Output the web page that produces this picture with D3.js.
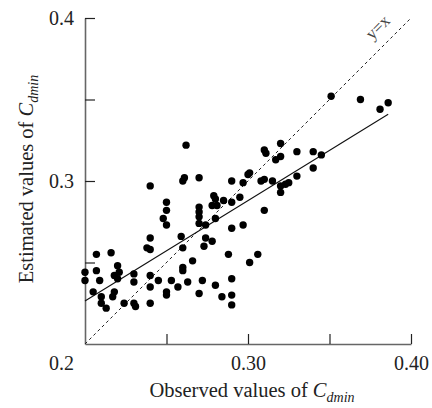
<!DOCTYPE html>
<html>
<head>
<meta charset="utf-8">
<script src="https://cdn.jsdelivr.net/npm/d3@7"></script>
<style>
  body { margin: 0; background: #fff; }
  svg text { font-family: "Liberation Serif", "Times New Roman", serif; }
</style>
</head>
<body>
<svg id="chart" width="432" height="408"></svg>
<script>
// observed / estimated values
var observed = [
  0.200, 0.200, 0.207, 0.207, 0.205, 0.209, 0.210, 0.210, 0.213, 0.216,
  0.220, 0.221, 0.218, 0.220, 0.218, 0.217, 0.224, 0.230, 0.230, 0.230,
  0.231, 0.240, 0.240, 0.238, 0.240, 0.240, 0.240, 0.240, 0.245, 0.250,
  0.250, 0.248, 0.250, 0.250, 0.250, 0.253, 0.257, 0.259, 0.260, 0.260,
  0.260, 0.260, 0.261, 0.263, 0.266, 0.270, 0.270, 0.270, 0.270, 0.270,
  0.272, 0.270, 0.274, 0.274, 0.273, 0.278, 0.279, 0.280, 0.278, 0.281,
  0.280, 0.280, 0.284, 0.285, 0.290, 0.290, 0.290, 0.288, 0.290, 0.290,
  0.290, 0.295, 0.297, 0.297, 0.300, 0.301, 0.262,
  0.301, 0.351, 0.369, 0.381, 0.386, 0.320, 0.310, 0.311, 0.330, 0.340,
  0.345, 0.320, 0.317, 0.340, 0.330, 0.308, 0.310, 0.315, 0.320, 0.325,
  0.323, 0.320, 0.310, 0.306
];
var estimated = [
  0.244, 0.239, 0.255, 0.245, 0.232, 0.239, 0.229, 0.225, 0.222, 0.256,
  0.248, 0.244, 0.242, 0.240, 0.232, 0.229, 0.225, 0.243, 0.238, 0.225,
  0.223, 0.297, 0.265, 0.259, 0.258, 0.242, 0.235, 0.225, 0.239, 0.287,
  0.282, 0.277, 0.273, 0.232, 0.230, 0.239, 0.235, 0.266, 0.259, 0.247,
  0.245, 0.300, 0.302, 0.238, 0.251, 0.302, 0.284, 0.281, 0.278, 0.274,
  0.239, 0.231, 0.273, 0.265, 0.260, 0.263, 0.291, 0.289, 0.285, 0.285,
  0.277, 0.236, 0.229, 0.288, 0.300, 0.287, 0.271, 0.255, 0.240, 0.230,
  0.224, 0.290, 0.299, 0.273, 0.304, 0.250, 0.322,
  0.305, 0.352, 0.350, 0.344, 0.348, 0.323, 0.319, 0.317, 0.318, 0.318,
  0.316, 0.315, 0.313, 0.308, 0.303, 0.300, 0.301, 0.300, 0.297, 0.299,
  0.298, 0.293, 0.282, 0.255
];

// fitted line and 1:1 line end points
var fitX = [0.200, 0.386];
var fitY = [0.2264, 0.341];
var identity = [0.2, 0.4];

var xTicks = [0.25, 0.30, 0.35, 0.40];
var xTickLabels = ["", "0.30", "", "0.40"];
var yTicks = [0.25, 0.30, 0.35, 0.40];
var yTickLabels = ["", "0.3", "", "0.4"];
var originLabel = "0.2";

var serif = "'Liberation Serif', 'Times New Roman', serif";
var svg = d3.select("#chart");

var x = d3.scaleLinear().domain([0.2, 0.4]).range([85, 411]);
var y = d3.scaleLinear().domain([0.2, 0.4]).range([344, 18]);

// axes (ticks point inward)
var xAxis = d3.axisBottom(x)
    .tickValues(xTicks)
    .tickSizeInner(-10)
    .tickSizeOuter(0)
    .tickPadding(12)
    .tickFormat(function (d, i) { return xTickLabels[i]; });
var yAxis = d3.axisLeft(y)
    .tickValues(yTicks)
    .tickSizeInner(-10)
    .tickSizeOuter(0)
    .tickPadding(11)
    .tickFormat(function (d, i) { return yTickLabels[i]; });

var gx = svg.append("g").attr("transform", "translate(0," + y(0.2) + ")").call(xAxis);
var gy = svg.append("g").attr("transform", "translate(" + x(0.2) + ",0)").call(yAxis);

[gx, gy].forEach(function (g) {
    g.attr("font-family", serif);
    g.select(".domain").attr("stroke", "#666").attr("stroke-width", 1.6);
    g.selectAll(".tick line").attr("stroke", "#222").attr("stroke-width", 1.2);
    g.selectAll(".tick text")
        .attr("fill", "#222")
        .style("font-size", "20px")
        .style("font-family", serif);
});

svg.append("text")
    .attr("x", 74).attr("y", 370)
    .attr("text-anchor", "end")
    .attr("fill", "#222")
    .style("font-size", "20px")
    .text(originLabel);

// y = x dashed line
svg.append("line")
    .attr("x1", x(identity[0])).attr("y1", y(identity[0]))
    .attr("x2", x(identity[1])).attr("y2", y(identity[1]))
    .attr("stroke", "#222")
    .attr("stroke-width", 1)
    .attr("stroke-dasharray", "3,3");

svg.append("text")
    .attr("transform", "translate(" + x(0.382) + "," + y(0.392) + ") rotate(-45)")
    .attr("text-anchor", "middle")
    .attr("fill", "#444")
    .style("font-size", "17px")
    .text("y=x");

// regression line
svg.append("line")
    .attr("x1", x(fitX[0])).attr("y1", y(fitY[0]))
    .attr("x2", x(fitX[1])).attr("y2", y(fitY[1]))
    .attr("stroke", "#111")
    .attr("stroke-width", 1.1);

// points
svg.append("g").selectAll("circle")
    .data(observed)
    .enter()
    .append("circle")
    .attr("cx", function (d) { return x(d); })
    .attr("cy", function (d, i) { return y(estimated[i]); })
    .attr("r", 3.7)
    .attr("fill", "#000");

// axis titles
var xt = svg.append("text")
    .attr("x", 252).attr("y", 397)
    .attr("text-anchor", "middle")
    .attr("fill", "#222")
    .style("font-size", "20.5px");
xt.append("tspan").text("Observed values of ");
xt.append("tspan").style("font-style", "italic").text("C");
xt.append("tspan").style("font-style", "italic").style("font-size", "14px").attr("dy", "0.35em").text("dmin");

var yt = svg.append("text")
    .attr("transform", "translate(33,179) rotate(-90)")
    .attr("text-anchor", "middle")
    .attr("fill", "#222")
    .style("font-size", "20.5px");
yt.append("tspan").text("Estimated values of ");
yt.append("tspan").style("font-style", "italic").text("C");
yt.append("tspan").style("font-style", "italic").style("font-size", "14px").attr("dy", "0.35em").text("dmin");
</script>
</body>
</html>
